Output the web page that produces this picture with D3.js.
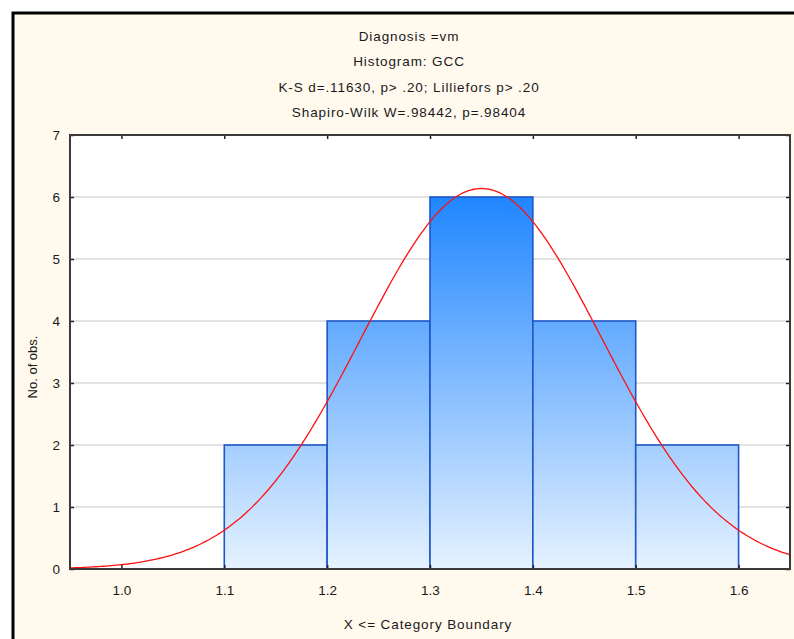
<!DOCTYPE html>
<html>
<head>
<meta charset="utf-8">
<script src="https://cdn.jsdelivr.net/npm/d3@7"></script>
<style>
  html, body { margin: 0; padding: 0; background: #ffffff; }
  svg { display: block; }
  text { font-family: "Liberation Sans", Arial, sans-serif; fill: #1a1a1a; }
</style>
</head>
<body>
<svg id="chart" width="794" height="639"></svg>
<script>
// Histogram of GCC, Diagnosis = vm
const titleLines = [
  "Diagnosis =vm",
  "Histogram: GCC",
  "K-S d=.11630, p> .20; Lilliefors p> .20",
  "Shapiro-Wilk W=.98442, p=.98404"
];
const binLower = [1.0, 1.1, 1.2, 1.3, 1.4, 1.5];
const binUpper = [1.1, 1.2, 1.3, 1.4, 1.5, 1.6];
const binCounts = [0, 2, 4, 6, 4, 2];
const xTicks = [1.0, 1.1, 1.2, 1.3, 1.4, 1.5, 1.6];
const yTicks = [0, 1, 2, 3, 4, 5, 6, 7];
const xLabel = "X <= Category Boundary";
const yLabel = "No. of obs.";
// Fitted normal curve parameters
const fitMean = 1.35;
const fitSd = 0.117;
const fitN = 18;
const binWidth = 0.1;

const svg = d3.select("#chart");

// outer panel
svg.append("rect")
  .attr("x", 13).attr("y", 13)
  .attr("width", 800).attr("height", 650)
  .attr("fill", "#fff9ee")
  .attr("stroke", "#000").attr("stroke-width", 3);

const plot = { left: 70, top: 135, right: 790, bottom: 569 };

const x = d3.scaleLinear().domain([0.95, 1.65]).range([plot.left, plot.right]);
const y = d3.scaleLinear().domain([0, 7]).range([plot.bottom, plot.top]);

const defs = svg.append("defs");
const grad = defs.append("linearGradient")
  .attr("id", "barFill")
  .attr("gradientUnits", "userSpaceOnUse")
  .attr("x1", 0).attr("x2", 0)
  .attr("y1", y(6)).attr("y2", y(0));
grad.append("stop").attr("offset", 0).attr("stop-color", "#2086ff");
grad.append("stop").attr("offset", 1).attr("stop-color", "#e6f2ff");

defs.append("clipPath").attr("id", "plotClip")
  .append("rect")
  .attr("x", plot.left).attr("y", plot.top)
  .attr("width", plot.right - plot.left).attr("height", plot.bottom - plot.top);

// plot background
svg.append("rect")
  .attr("x", plot.left).attr("y", plot.top)
  .attr("width", plot.right - plot.left).attr("height", plot.bottom - plot.top)
  .attr("fill", "#ffffff");

// horizontal gridlines
svg.append("g")
  .selectAll("line")
  .data(yTicks.filter(v => v > 0 && v < 7))
  .join("line")
  .attr("x1", plot.left).attr("x2", plot.right)
  .attr("y1", d => y(d)).attr("y2", d => y(d))
  .attr("stroke", "#d9d9d9").attr("stroke-width", 1.5);

// histogram bars
const bins = binLower.map((lo, i) => ({ lo, hi: binUpper[i], n: binCounts[i] }));
svg.append("g")
  .selectAll("rect")
  .data(bins)
  .join("rect")
  .attr("x", d => x(d.lo))
  .attr("y", d => y(d.n))
  .attr("width", d => x(d.hi) - x(d.lo))
  .attr("height", d => y(0) - y(d.n))
  .attr("fill", "url(#barFill)")
  .attr("stroke", "#1f56c8")
  .attr("stroke-width", 1.6);

// fitted normal curve
const curvePts = d3.range(0, 281).map(i => {
  const xv = 0.95 + i * 0.0025;
  const z = (xv - fitMean) / fitSd;
  const yv = fitN * binWidth / (fitSd * Math.sqrt(2 * Math.PI)) * Math.exp(-0.5 * z * z);
  return [xv, yv];
});
svg.append("path")
  .datum(curvePts)
  .attr("clip-path", "url(#plotClip)")
  .attr("fill", "none")
  .attr("stroke", "#ff1010")
  .attr("stroke-width", 1.3)
  .attr("d", d3.line().x(d => x(d[0])).y(d => y(d[1])));

// axes with inward ticks on all sides
const fmtX = d3.format(".1f");
const axisStyle = g => {
  g.select(".domain").remove();
  g.selectAll(".tick line").attr("stroke", "#222").attr("stroke-width", 1.5);
  g.selectAll(".tick text")
    .attr("font-size", 13.5)
    .attr("font-family", "'Liberation Sans', Arial, sans-serif")
    .attr("fill", "#2a2a2a");
};

svg.append("g")
  .attr("transform", `translate(0,${plot.bottom})`)
  .call(d3.axisBottom(x).tickValues(xTicks).tickFormat(fmtX).tickSizeInner(-4).tickPadding(16))
  .call(axisStyle);

svg.append("g")
  .attr("transform", `translate(0,${plot.top})`)
  .call(d3.axisTop(x).tickValues(xTicks).tickFormat("").tickSizeInner(-4))
  .call(axisStyle);

svg.append("g")
  .attr("transform", `translate(${plot.left},0)`)
  .call(d3.axisLeft(y).tickValues(yTicks).tickFormat(d3.format("d")).tickSizeInner(-4).tickPadding(10))
  .call(axisStyle);

svg.append("g")
  .attr("transform", `translate(${plot.right},0)`)
  .call(d3.axisRight(y).tickValues(yTicks).tickFormat("").tickSizeInner(-4))
  .call(axisStyle);

// plot frame
svg.append("rect")
  .attr("x", plot.left).attr("y", plot.top)
  .attr("width", plot.right - plot.left).attr("height", plot.bottom - plot.top)
  .attr("fill", "none")
  .attr("stroke", "#3a3a3a").attr("stroke-width", 2);

// titles
svg.append("g")
  .selectAll("text")
  .data(titleLines)
  .join("text")
  .attr("x", 409)
  .attr("y", (d, i) => 41 + i * 25.3)
  .attr("text-anchor", "middle")
  .attr("font-size", 13.5)
  .attr("letter-spacing", 0.9)
  .text(d => d);

// axis titles
svg.append("text")
  .attr("x", 428).attr("y", 629)
  .attr("text-anchor", "middle")
  .attr("font-size", 13.5)
  .attr("letter-spacing", 0.9)
  .text(xLabel);

svg.append("text")
  .attr("transform", "translate(37,367) rotate(-90)")
  .attr("text-anchor", "middle")
  .attr("font-size", 13)
  .text(yLabel);
</script>
</body>
</html>
